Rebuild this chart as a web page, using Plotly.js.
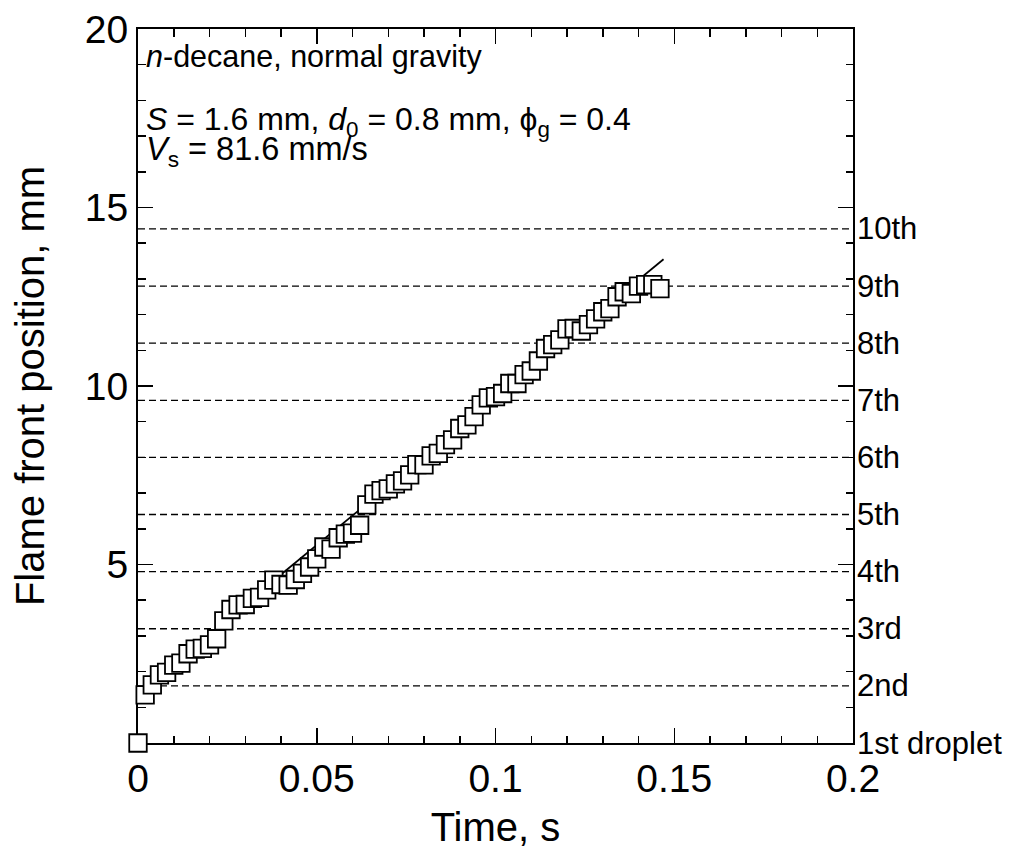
<!DOCTYPE html>
<html>
<head>
<meta charset="utf-8">
<script src="https://cdn.plot.ly/plotly-3.0.1.min.js"></script>
<style>
  html, body { margin: 0; padding: 0; background: #ffffff; }
  #chart { width: 1018px; height: 849px; }
</style>
</head>
<body>
<div id="chart"></div>
<script>
// ---- data ----
const timeS = [0, 0.002, 0.004, 0.006, 0.008, 0.010, 0.012, 0.014, 0.016, 0.018,
  0.020, 0.022, 0.024, 0.026, 0.028, 0.030, 0.032, 0.034, 0.036, 0.038,
  0.040, 0.042, 0.044, 0.046, 0.048, 0.050, 0.052, 0.054, 0.056, 0.058,
  0.060, 0.062, 0.064, 0.066, 0.068, 0.070, 0.072, 0.074, 0.076, 0.078,
  0.080, 0.082, 0.084, 0.086, 0.088, 0.090, 0.092, 0.094, 0.096, 0.098,
  0.100, 0.102, 0.104, 0.106, 0.108, 0.110, 0.112, 0.114, 0.116, 0.118,
  0.120, 0.122, 0.124, 0.126, 0.128, 0.130, 0.132, 0.134, 0.136, 0.138,
  0.140, 0.142, 0.144, 0.146];
const frontMm = [0, 1.35, 1.63, 1.91, 1.98, 2.18, 2.24, 2.50, 2.63, 2.65,
  2.75, 2.92, 3.42, 3.74, 3.87, 3.88, 4.05, 4.08, 4.29, 4.56,
  4.44, 4.42, 4.58, 4.75, 4.93, 5.16, 5.49, 5.43, 5.75, 5.85,
  5.88, 6.10, 6.67, 6.97, 7.07, 7.12, 7.26, 7.34, 7.51, 7.80,
  7.79, 8.04, 8.11, 8.36, 8.49, 8.81, 8.91, 9.14, 9.47, 9.67,
  9.70, 9.79, 10.07, 10.07, 10.32, 10.42, 10.70, 11.05, 11.16, 11.29,
  11.60, 11.61, 11.54, 11.72, 11.88, 12.08, 12.17, 12.50, 12.64, 12.59,
  12.80, 12.84, 12.84, 12.73];
const fitTime = [0.040, 0.147];
const fitMm = [4.72, 13.55];
const dropletMm = [0, 1.6, 3.2, 4.8, 6.4, 8.0, 9.6, 11.2, 12.8, 14.4];
const dropletLabels = ['1st droplet', '2nd', '3rd', '4th', '5th', '6th', '7th', '8th', '9th', '10th'];
const xTickVals = [0, 0.05, 0.1, 0.15, 0.2];
const xTickText = ['0', '0.05', '0.1', '0.15', '0.2'];
const yTickVals = [5, 10, 15, 20];
const yTickText = ['5', '10', '15', '20'];
const noteLines = [
  '<i>n</i>-decane, normal gravity',
  '<i>S</i> = 1.6 mm, <i>d</i><sub>0</sub> = 0.8 mm, ϕ<sub>g</sub> = 0.4',
  '<i>V</i><sub>s</sub> = 81.6 mm/s'
];
const noteY = [19.24, 17.42, 16.56];
const noteSize = [30.5, 32, 32.5];

// ---- figure ----
const FONT = 'Liberation Sans, Arial, Helvetica, sans-serif';
const xRange = [0, 0.2];
const yRange = [0, 20];

const traces = [];
// dashed droplet lines
dropletMm.forEach(function (y) {
  if (y <= 0) return;
  traces.push({
    x: xRange, y: [y, y], type: 'scatter', mode: 'lines',
    line: {color: '#000', width: 1.3, dash: '7px,4px'},
    hoverinfo: 'skip', showlegend: false
  });
});
// fitted line
traces.push({
  x: fitTime, y: fitMm, type: 'scatter', mode: 'lines',
  line: {color: '#000', width: 1.7}, showlegend: false
});
// measured points
traces.push({
  x: timeS, y: frontMm, type: 'scatter', mode: 'markers',
  marker: {symbol: 'square', size: 17.5, color: '#ffffff', line: {color: '#000', width: 1.8}},
  cliponaxis: false, showlegend: false
});

const annotations = [];
noteLines.forEach(function (t, i) {
  annotations.push({
    text: t, xref: 'paper', yref: 'y', x: 0, y: noteY[i],
    xanchor: 'left', yanchor: 'middle', xshift: 6, showarrow: false,
    font: {family: FONT, size: noteSize[i], color: '#000'}
  });
});
dropletMm.forEach(function (y, i) {
  annotations.push({
    text: dropletLabels[i], xref: 'paper', yref: 'y', x: 1, y: y,
    xanchor: 'left', yanchor: 'middle', xshift: 2, showarrow: false,
    font: {family: FONT, size: 31, color: '#000'}
  });
});

const axisCommon = {
  showline: true, linecolor: '#000', linewidth: 2, mirror: 'ticks',
  ticks: 'inside', ticklen: 15, tickwidth: 1.5, tickcolor: '#000',
  showgrid: false, zeroline: false, fixedrange: true, layer: 'below traces',
  tickfont: {family: FONT, size: 39, color: '#000'}
};

const layout = {
  width: 1018, height: 849,
  margin: {l: 138, r: 165, t: 29, b: 106, pad: 0},
  paper_bgcolor: '#ffffff', plot_bgcolor: '#ffffff',
  font: {family: FONT, color: '#000'},
  showlegend: false,
  xaxis: Object.assign({}, axisCommon, {
    range: xRange, tickmode: 'array', tickvals: xTickVals, ticktext: xTickText,
    minor: {dtick: 0.01, tick0: 0, ticks: 'inside', ticklen: 7.5, tickwidth: 1.5, tickcolor: '#000', showgrid: false},
    title: {text: 'Time, s', font: {family: FONT, size: 40, color: '#000'}, standoff: 19}
  }),
  yaxis: Object.assign({}, axisCommon, {
    range: yRange, tickmode: 'array', tickvals: yTickVals, ticktext: yTickText,
    minor: {dtick: 1, tick0: 0, ticks: 'inside', ticklen: 7.5, tickwidth: 1.5, tickcolor: '#000', showgrid: false},
    title: {text: 'Flame front position, mm', font: {family: FONT, size: 40, color: '#000'}, standoff: 28}
  }),
  annotations: annotations
};

Plotly.newPlot('chart', traces, layout, {displayModeBar: false, staticPlot: true});
</script>
</body>
</html>
